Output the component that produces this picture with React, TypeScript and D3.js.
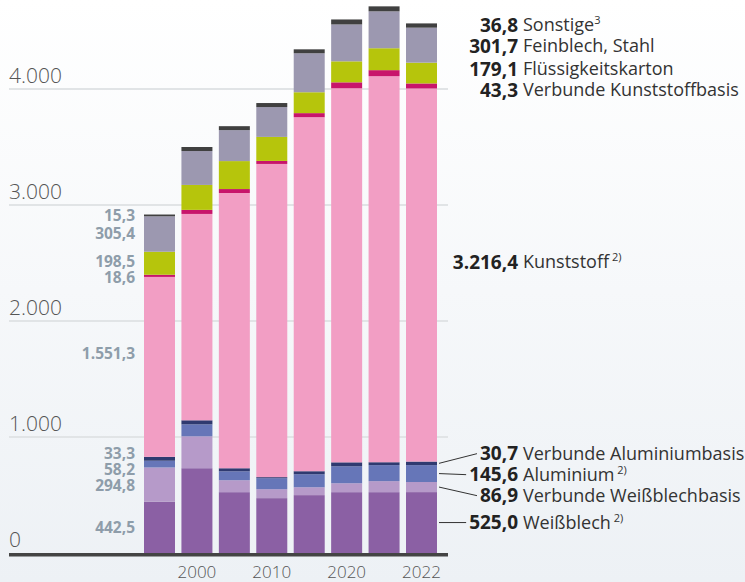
import React, { useEffect, useRef } from 'react';
import * as d3 from 'd3';

// years of the bars, only some get a label
const years = ['1991', '2000', '2005', '2010', '2015', '2020', '2021', '2022'];
const shownYears = ['2000', '2010', '2020', '2022'];
const yTicks = [0, 1000, 2000, 3000, 4000];

// series, stacked from bottom to top
const weissblech = [442.5, 731, 524.5, 473, 499, 524.5, 524.5, 525.0];
const verbWeissblech = [294.8, 275, 103, 77, 68, 77, 95, 86.9];
const aluminium = [58.2, 103, 77, 95, 112, 146, 138, 145.6];
const verbAluminium = [33.3, 35, 26, 9, 26, 34, 25, 30.7];
const kunststoff = [1551.3, 1779, 2373, 2700, 3052, 3225, 3328, 3216.4];
const verbKunststoff = [18.6, 35, 34, 26, 35, 51, 52, 43.3];
const karton = [198.5, 215, 241, 207, 180, 181, 189, 179.1];
const feinblech = [305.4, 292, 267, 257, 336, 318, 318, 301.7];
const sonstige = [15.3, 35, 34, 35, 34, 43, 43, 36.8];

const seriesValues = [weissblech, verbWeissblech, aluminium, verbAluminium, kunststoff, verbKunststoff, karton, feinblech, sonstige];
const seriesNames = ['Weißblech', 'Verbunde Weißblechbasis', 'Aluminium', 'Verbunde Aluminiumbasis', 'Kunststoff', 'Verbunde Kunststoffbasis', 'Flüssigkeitskarton', 'Feinblech, Stahl', 'Sonstige'];
const seriesNotes = [' 2)', '', ' 2)', '', ' 2)', '', '', '', '3'];
const seriesColors = ['#8b60a4', '#b69ac9', '#6676b8', '#2f3a70', '#f29ec4', '#c8156b', '#b6c50c', '#9c98b0', '#404040'];

const relax = (items: { y: number }[], gap: number) => {
  const sorted = [...items].sort((a, b) => a.y - b.y);
  for (let it = 0; it < 200; it++) {
    for (let i = 1; i < sorted.length; i++) {
      const d = sorted[i].y - sorted[i - 1].y;
      if (d < gap) {
        const s = (gap - d) / 2;
        sorted[i - 1].y -= s;
        sorted[i].y += s;
      }
    }
  }
};

const App = () => {
  const svgRef = useRef<SVGSVGElement>(null);

  useEffect(() => {
    const svg = d3.select(svgRef.current);
    svg.selectAll('*').remove();

    const de = d3.formatLocale({ decimal: ',', thousands: '.', grouping: [3], currency: ['', ''] });
    const fmtVal = de.format(',.1f');
    const fmtTick = de.format(',.0f');
    const font = "'Open Sans', sans-serif";

    const grad = svg.append('defs').append('linearGradient')
      .attr('id', 'bg').attr('x1', 0).attr('x2', 0).attr('y1', 0).attr('y2', 1);
    grad.append('stop').attr('offset', '0%').attr('stop-color', '#ffffff');
    grad.append('stop').attr('offset', '100%').attr('stop-color', '#edf1f5');
    svg.append('rect').attr('width', 745).attr('height', 582).attr('fill', 'url(#bg)');

    const x = d3.scaleBand().domain(years).range([144, 437]).paddingInner(0.172);
    const y = d3.scaleLinear().domain([0, 4000]).range([553, 89]);

    svg.append('g').selectAll('line')
      .data(yTicks.slice(1))
      .enter().append('line')
      .attr('x1', 9).attr('x2', 448)
      .attr('y1', d => y(d)).attr('y2', d => y(d))
      .attr('stroke', '#e1e4e6').attr('stroke-width', 2);

    svg.append('g').selectAll('text')
      .data(yTicks)
      .enter().append('text')
      .attr('x', 9).attr('y', d => y(d) - 6)
      .attr('font-family', font).attr('font-weight', 300).attr('font-size', 21)
      .attr('fill', '#555')
      .text(d => fmtTick(d));

    const keys = seriesNames;
    const table = years.map((yr, i) => {
      const row: any = { year: yr };
      keys.forEach((k, j) => { row[k] = seriesValues[j][i]; });
      return row;
    });
    const stacked = d3.stack<any>().keys(keys)(table);

    svg.append('g').selectAll('g')
      .data(stacked)
      .enter().append('g')
      .attr('fill', (d, i) => seriesColors[i])
      .selectAll('rect')
      .data(d => d)
      .enter().append('rect')
      .attr('x', d => x(d.data.year)!)
      .attr('y', d => y(d[1]))
      .attr('height', d => y(d[0]) - y(d[1]))
      .attr('width', x.bandwidth());

    svg.append('rect')
      .attr('x', 9).attr('y', 553).attr('width', 439).attr('height', 3.5)
      .attr('fill', '#444');

    svg.append('g').selectAll('text')
      .data(shownYears)
      .enter().append('text')
      .attr('x', d => x(d)! + x.bandwidth() / 2).attr('y', 578)
      .attr('text-anchor', 'middle')
      .attr('font-family', font).attr('font-weight', 300).attr('font-size', 17)
      .attr('fill', '#555')
      .text(d => d);

    const shiftOf = (i: number) => (i === 4 ? -13 : 0);

    // left labels for the first bar
    const first = stacked.map((s, i) => {
      const c = y((s[0][0] + s[0][1]) / 2) + shiftOf(i);
      return { i, c, y: c };
    });
    relax(first, 16);
    svg.append('g').selectAll('text')
      .data(first)
      .enter().append('text')
      .attr('x', 135).attr('y', d => d.y).attr('dy', '0.35em')
      .attr('text-anchor', 'end')
      .attr('font-family', font).attr('font-weight', 700).attr('font-size', 15.5)
      .attr('fill', '#8e9daa')
      .text(d => fmtVal(seriesValues[d.i][0]));

    // right labels for the last bar
    const n = years.length - 1;
    const last = stacked.map((s, i) => {
      const c = y((s[n][0] + s[n][1]) / 2) + shiftOf(i);
      return { i, c, y: c };
    });
    relax(last, 21);
    const rg = svg.append('g');
    last.forEach(d => {
      const t = rg.append('text')
        .attr('x', 518).attr('y', d.y).attr('dy', '0.35em')
        .attr('text-anchor', 'end')
        .attr('font-family', font).attr('font-weight', 700).attr('font-size', 19)
        .attr('fill', '#222')
        .text(fmtVal(seriesValues[d.i][n]));
      const w = (t.node() as SVGTextElement).getComputedTextLength();
      const nm = rg.append('text')
        .attr('x', 523).attr('y', d.y).attr('dy', '0.35em')
        .attr('font-family', font).attr('font-size', 18)
        .attr('fill', '#333');
      nm.append('tspan').text(seriesNames[d.i]);
      if (seriesNotes[d.i]) {
        nm.append('tspan').attr('dy', -7).attr('font-size', 11).text(seriesNotes[d.i]);
      }
      if (d.i < 4) {
        rg.append('line')
          .attr('x1', 439).attr('y1', d.c)
          .attr('x2', 518 - w - 3).attr('y2', d.y)
          .attr('stroke', '#333').attr('stroke-width', 1);
      }
    });
  }, []);

  return <svg ref={svgRef} width={745} height={582} style={{ position: 'absolute', left: 0, top: 0 }} />;
};

export default App;
